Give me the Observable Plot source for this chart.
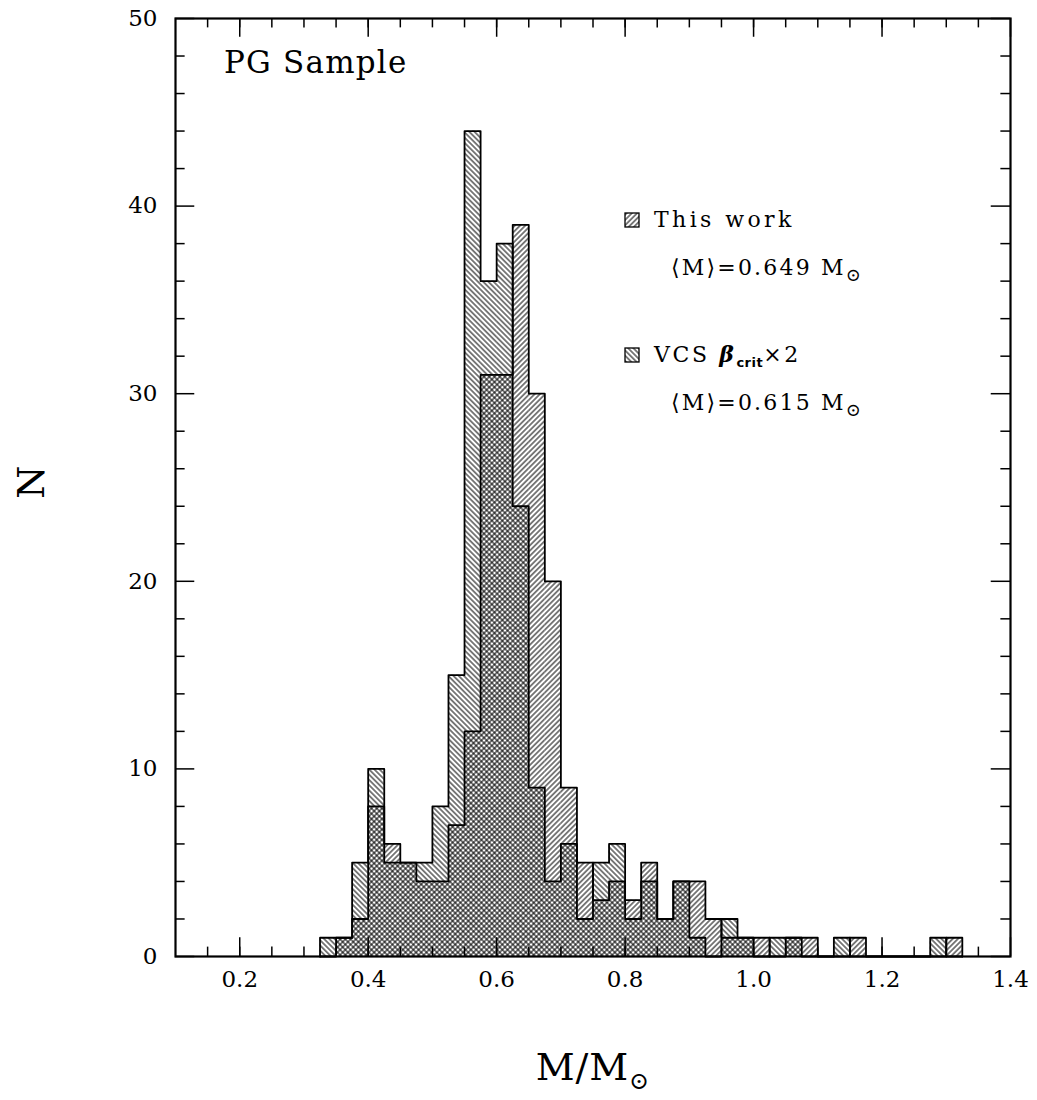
<!DOCTYPE html>
<html><head><meta charset="utf-8">
<script src="https://cdn.jsdelivr.net/npm/d3@7"></script>
<script src="https://cdn.jsdelivr.net/npm/@observablehq/plot@0.6"></script>
<style>
body{margin:0;background:#fff;}
svg{display:block}
</style>
</head><body><div id="chart"></div>
<script>
// Histogram bins (left edges), bin width 0.025 M_sun
const binStarts = [0.325,0.35,0.375,0.4,0.425,0.45,0.475,0.5,0.525,0.55,0.575,0.6,0.625,0.65,0.675,0.7,0.725,0.75,0.775,0.8,0.825,0.85,0.875,0.9,0.925,0.95,0.975,1.0,1.025,1.05,1.075,1.1,1.125,1.15,1.175,1.2,1.225,1.25,1.275,1.3];
const binWidth = 0.025;
// "This work" counts
const thisWork = [0,1,2,8,6,5,4,4,7,12,31,31,39,30,20,9,5,3,4,3,5,2,4,4,2,1,1,1,0,1,1,0,0,1,0,0,0,0,0,1];
// "VCS beta_crit x 2" counts
const vcs = [1,1,5,10,5,5,5,8,15,44,36,38,24,9,4,6,2,5,6,2,4,2,4,1,0,2,1,0,1,1,0,0,1,0,0,0,0,0,1,0];

// Axis ticks
const xMajor = [0.2,0.4,0.6,0.8,1.0,1.2,1.4];
const xMinor = [0.15,0.2,0.25,0.3,0.35,0.4,0.45,0.5,0.55,0.6,0.65,0.7,0.75,0.8,0.85,0.9,0.95,1.0,1.05,1.1,1.15,1.2,1.25,1.3,1.35];
const yMajor = [0,10,20,30,40,50];
const yMinor = [2,4,6,8,12,14,16,18,22,24,26,28,32,34,36,38,42,44,46,48];

const xDomain = [0.1, 1.4];
const yDomain = [0, 50];

const rows = (counts) => binStarts.map((x0, i) => ({x0, x1: x0 + binWidth, n: counts[i]})).filter(d => d.n > 0);
// step outline of a histogram: start at 0, one point per bin, close back at 0
const outline = (counts) => [
  {x: binStarts[0], n: 0},
  ...binStarts.map((x0, i) => ({x: x0, n: counts[i]})),
  {x: binStarts[binStarts.length - 1] + binWidth, n: 0}
];

const FONT = "DejaVu Serif";
const tk = {stroke: "black", strokeWidth: 1.5};

const svg = Plot.plot({
  width: 1037, height: 1100,
  marginLeft: 175, marginRight: 27, marginTop: 18, marginBottom: 144,
  style: {fontFamily: FONT, background: "white", color: "black", overflow: "visible"},
  x: {domain: xDomain},
  y: {domain: yDomain},
  marks: [
    Plot.rect(rows(thisWork), {x1: "x0", x2: "x1", y1: 0, y2: "n", fill: "url(#hatchF)", inset: 0}),
    Plot.rect(rows(vcs), {x1: "x0", x2: "x1", y1: 0, y2: "n", fill: "url(#hatchB)", inset: 0}),
    Plot.line(outline(thisWork), {x: "x", y: "n", curve: "step-after", stroke: "black", strokeWidth: 1.8}),
    Plot.line(outline(vcs), {x: "x", y: "n", curve: "step-after", stroke: "black", strokeWidth: 1.8}),
    // inward ticks, bottom & top
    Plot.ruleX(xMinor, {x: d => d, y1: 0, y2: 0.5, ...tk}),
    Plot.ruleX(xMajor, {x: d => d, y1: 0, y2: 1.0, ...tk}),
    Plot.ruleX(xMinor, {x: d => d, y1: 50, y2: 49.5, ...tk}),
    Plot.ruleX(xMajor, {x: d => d, y1: 50, y2: 49.0, ...tk}),
    // inward ticks, left & right
    Plot.ruleY(yMinor, {y: d => d, x1: 0.1, x2: 0.115, ...tk}),
    Plot.ruleY(yMajor, {y: d => d, x1: 0.1, x2: 0.13, ...tk}),
    Plot.ruleY(yMinor, {y: d => d, x1: 1.4, x2: 1.385, ...tk}),
    Plot.ruleY(yMajor, {y: d => d, x1: 1.4, x2: 1.37, ...tk}),
    Plot.axisX({ticks: xMajor, tickSize: 0, tickPadding: 14, tickFormat: d3.format(".1f"), fontSize: 23, label: null}),
    Plot.axisY({ticks: yMajor, tickSize: 0, tickPadding: 18, fontSize: 23, label: null}),
    Plot.frame({stroke: "black", strokeWidth: 2.2})
  ]
});

const s = d3.select(svg);
const defs = s.insert("defs", ":first-child");
function hatch(id, angle) {
  const w = 3.7;
  const p = defs.append("pattern").attr("id", id)
    .attr("patternUnits", "userSpaceOnUse")
    .attr("width", w).attr("height", w)
    .attr("patternTransform", `rotate(${angle})`);
  p.append("line").attr("x1", w / 2).attr("y1", -1).attr("x2", w / 2).attr("y2", w + 1)
    .attr("stroke", "black").attr("stroke-width", 1.0);
}
hatch("hatchF", 45);   // "/"
hatch("hatchB", -45);  // "\"

const g = s.append("g").attr("font-family", FONT).attr("fill", "black").attr("text-anchor", "start");

// PG Sample
g.append("text").attr("x", 224).attr("y", 73).attr("font-size", 31).attr("letter-spacing", 1.2).text("PG Sample");

// Legend
function legendEntry(y, pat) {
  g.append("rect").attr("x", 625).attr("y", y - 14).attr("width", 14).attr("height", 14)
    .attr("fill", `url(#${pat})`).attr("stroke", "black").attr("stroke-width", 1.3);
}
legendEntry(227, "hatchF");
g.append("text").attr("x", 654).attr("y", 227).attr("font-size", 22).attr("letter-spacing", 3.4).text("This work");
function meanLine(y, val) {
  const t = g.append("text").attr("x", 671).attr("y", y).attr("font-size", 22).attr("letter-spacing", 2.2);
  t.append("tspan").text("\u27E8M\u27E9=" + val + " M");
  t.append("tspan").attr("font-size", 18).attr("dy", 6).text("\u2299");
}
meanLine(275, "0.649");
legendEntry(362, "hatchB");
{
  const t = g.append("text").attr("x", 654).attr("y", 362).attr("font-size", 22).attr("letter-spacing", 2.6);
  t.append("tspan").text("VCS ");
  t.append("tspan").attr("font-style", "italic").attr("font-weight", "bold").attr("font-family", "DejaVu Serif").text("\u03B2");
  t.append("tspan").attr("font-size", 13).attr("font-weight", "bold").attr("font-family", "DejaVu Sans").attr("letter-spacing", 0.5).attr("dy", 5).text("crit");
  t.append("tspan").attr("dy", -5).text("\u00D72");
}
meanLine(410, "0.615");

// Axis titles
g.append("text").attr("transform", "translate(44,482) rotate(-90)")
  .attr("text-anchor", "middle").attr("font-size", 38).text("N");
{
  const t = g.append("text").attr("x", 593).attr("y", 1080).attr("text-anchor", "middle").attr("font-size", 38).attr("letter-spacing", 1);
  t.append("tspan").text("M/M");
  t.append("tspan").attr("font-size", 24).attr("dy", 9).text("\u2299");
}

document.getElementById("chart").appendChild(svg);
</script>
</body></html>
